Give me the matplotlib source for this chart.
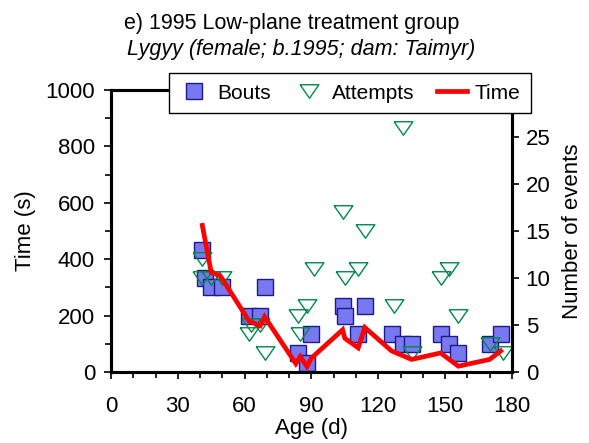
import matplotlib
matplotlib.use("Agg")
import matplotlib.pyplot as plt
from matplotlib.ticker import MultipleLocator
from matplotlib.lines import Line2D

# ---- data ----
bouts_age = [41, 42, 45, 50, 62, 67, 69, 84, 88, 90, 104, 105, 111, 114, 126, 131, 135, 148, 152, 156, 170, 175]
bouts = [13, 10, 9, 9, 6, 6, 9, 2, 1, 4, 7, 6, 4, 7, 4, 3, 3, 4, 3, 2, 3, 4]

att_age = [41, 41, 45, 50, 62, 63, 67, 69, 84, 85, 88, 91, 104, 105, 111, 114, 127, 131, 135, 148, 152, 156, 170, 176]
attempts = [12, 10, 10, 10, 4, 5, 5, 2, 6, 4, 7, 11, 17, 10, 11, 15, 7, 26, 2, 10, 11, 6, 3, 2]

time_age = [41, 45, 49, 62, 67, 69, 83, 85, 88, 90, 104, 105, 111, 114, 126, 135, 148, 156, 170, 175]
time_s = [520, 353, 342, 181, 164, 196, 30, 55, 20, 50, 150, 120, 86, 158, 75, 45, 68, 21, 45, 75]

x_ticks = [0, 30, 60, 90, 120, 150, 180]
left_ticks = [0, 200, 400, 600, 800, 1000]
right_ticks = [0, 5, 10, 15, 20, 25]

title = "e) 1995 Low-plane treatment group"
subtitle = "Lygyy (female; b.1995; dam: Taimyr)"

plt.rcParams['font.family'] = ['Liberation Sans', 'DejaVu Sans']

fig = plt.figure(figsize=(5.89, 4.43), dpi=100)
ax = fig.add_axes([0.1885, 0.160, 0.6805, 0.637])
ax2 = ax.twinx()

sq_face = '#7878F0'
sq_edge = '#1A1A8C'
tri_col = '#00894A'
tri_marker = [(-1, 0.72), (1, 0.72), (0, -0.72), (-1, 0.72)]
sq_size = 11
tri_size = 13.5

ax2.plot(bouts_age, bouts, linestyle='none', marker='s', markersize=sq_size,
         markerfacecolor=sq_face, markeredgecolor=sq_edge, markeredgewidth=1.0, zorder=2)
ax2.plot(att_age, attempts, linestyle='none', marker=tri_marker, markersize=tri_size,
         markerfacecolor='none', markeredgecolor=tri_col, markeredgewidth=1.0, zorder=3)
ax.plot(time_age, time_s, color='#FF0000', linewidth=3.4, solid_joinstyle='miter', zorder=4)

ax.set_zorder(ax2.get_zorder() + 1)
ax.patch.set_visible(False)

ax.set_xlim(0, 180)
ax.set_ylim(0, 1000)
ax2.set_ylim(0, 30)

ax.set_xticks(x_ticks)
ax.xaxis.set_minor_locator(MultipleLocator(10))
ax.set_yticks(left_ticks)
ax.yaxis.set_minor_locator(MultipleLocator(100))
ax2.set_yticks(right_ticks)

fs = 16
ax.tick_params(axis='y', which='major', labelsize=fs, length=5, width=1.2, direction='out', pad=6.5)
ax.tick_params(axis='x', which='major', labelsize=fs, length=5, width=1.2, direction='out', pad=12)
ax.tick_params(axis='both', which='minor', length=4, width=1.2, direction='out')
ax2.tick_params(axis='y', which='major', labelsize=fs, length=5, width=1.2, direction='out', pad=5)

for a in (ax, ax2):
    for s in a.spines.values():
        s.set_linewidth(2.2)
        s.set_color('black')

ax.set_xlabel("Age (d)", fontsize=fs, labelpad=1)
ax.set_ylabel("Time (s)", fontsize=fs, labelpad=7)
ax2.set_ylabel("Number of events", fontsize=fs, labelpad=8.5)

fig.text(0.495, 0.946, title, ha='center', va='center', fontsize=15.5)
fig.text(0.512, 0.888, subtitle, ha='center', va='center', fontsize=15.5, style='italic')

handles = [
    Line2D([], [], linestyle='none', marker='s', markersize=sq_size, markerfacecolor=sq_face,
           markeredgecolor=sq_edge, markeredgewidth=1.0),
    Line2D([], [], linestyle='none', marker=tri_marker, markersize=tri_size, markerfacecolor='none',
           markeredgecolor=tri_col, markeredgewidth=1.0),
    Line2D([], [], color='#FF0000', linewidth=3.4),
]
leg_fs = 15
leg = fig.legend(handles, ["Bouts", "Attempts", "Time"], ncol=3, loc='center',
                 bbox_to_anchor=(0.594, 0.790), fontsize=leg_fs, frameon=True, fancybox=False,
                 edgecolor='black', framealpha=1, borderpad=0.5, handlelength=1.44,
                 handletextpad=0.38, columnspacing=1.1, borderaxespad=0)
leg.get_frame().set_linewidth(1.0)
leg.set_zorder(10)

fig.savefig("out.png", dpi=100)
